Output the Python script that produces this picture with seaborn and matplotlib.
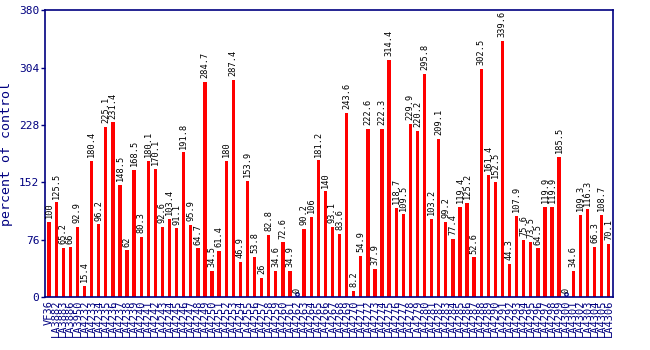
import matplotlib
matplotlib.use("Agg")
import matplotlib.pyplot as plt
import seaborn as sns
import pandas as pd

labels = ["VF36", "LA3882", "LA3883", "LA3886", "LA3950", "LA4232", "LA4233", "LA4234",
          "LA4235", "LA4236", "LA4237", "LA4238", "LA4239", "LA4240", "LA4241", "LA4242",
          "LA4243", "LA4244", "LA4245", "LA4246", "LA4247", "LA4248", "LA4249", "LA4250",
          "LA4251", "LA4252", "LA4253", "LA4254", "LA4255", "LA4256", "LA4257", "LA4258",
          "LA4259", "LA4260", "LA4261", "LA4262", "LA4263", "LA4264", "LA4265", "LA4266",
          "LA4267", "LA4268", "LA4269", "LA4270", "LA4271", "LA4272", "LA4273", "LA4274",
          "LA4275", "LA4276", "LA4277", "LA4278", "LA4279", "LA4280", "LA4281", "LA4282",
          "LA4283", "LA4284", "LA4285", "LA4286", "LA4287", "LA4288", "LA4289", "LA4290",
          "LA4291", "LA4292", "LA4293", "LA4294", "LA4295", "LA4296", "LA4297", "LA4298",
          "LA4299", "LA4300", "LA4301", "LA4302", "LA4303", "LA4304", "LA4305", "LA4306"]

values = [100, 125.5, 65.2, 66, 92.9, 15.4, 180.4, 96.2, 225.1, 231.4,
          148.5, 62, 168.5, 80.3, 180.1, 170.1, 92.6, 103.4, 91.1, 191.8,
          95.9, 64.7, 284.7, 34.5, 61.4, 180, 287.4, 46.9, 153.9, 53.8,
          26, 82.8, 34.6, 72.6, 34.9, 0, 90.2, 106, 181.2, 140,
          93.1, 83.6, 243.6, 8.2, 54.9, 222.6, 37.9, 222.3, 314.4, 118.7,
          109.5, 229.9, 220.2, 295.8, 103.2, 209.1, 99.2, 77.4, 119.4, 125.2,
          52.6, 302.5, 161.4, 152.5, 339.6, 44.3, 107.9, 75.6, 73.5, 64.5,
          119.9, 119.9, 185.5, 0, 34.6, 109.3, 116.3, 66.3, 108.7, 70.1]

value_text = ["100", "125.5", "65.2", "66", "92.9", "15.4", "180.4", "96.2", "225.1", "231.4",
              "148.5", "62", "168.5", "80.3", "180.1", "170.1", "92.6", "103.4", "91.1", "191.8",
              "95.9", "64.7", "284.7", "34.5", "61.4", "180", "287.4", "46.9", "153.9", "53.8",
              "26", "82.8", "34.6", "72.6", "34.9", "0", "90.2", "106", "181.2", "140",
              "93.1", "83.6", "243.6", "8.2", "54.9", "222.6", "37.9", "222.3", "314.4", "118.7",
              "109.5", "229.9", "220.2", "295.8", "103.2", "209.1", "99.2", "77.4", "119.4", "125.2",
              "52.6", "302.5", "161.4", "152.5", "339.6", "44.3", "107.9", "75.6", "73.5", "64.5",
              "119.9", "119.9", "185.5", "0", "34.6", "109.3", "116.3", "66.3", "108.7", "70.1"]

yticks = [0, 76, 152, 228, 304, 380]

navy = "#000080"
mono = "DejaVu Sans Mono"

sns.set_theme(style="white")
plt.rcParams["font.family"] = [mono]

df = pd.DataFrame({"line": labels, "pct": values})

fig = plt.figure(figsize=(6.5, 3.5), dpi=100)
ax = fig.add_axes([0.069, 0.151, 0.874, 0.82])

sns.barplot(data=df, x="line", y="pct", color="red", saturation=1,
            width=0.47, ax=ax, order=labels, linewidth=0)
for p in ax.patches:
    p.set_antialiased(False)

for i, (v, t) in enumerate(zip(values, value_text)):
    ax.text(i, v + 5, t, rotation=90, ha="center", va="bottom",
            fontsize=6.2, color="black", family=mono)
    if v == 0:
        ax.plot([i, i], [0, 4], color=navy, lw=1)
        ax.plot(i, 4.5, marker="o", ms=2.5, mfc="white", mec=navy, mew=0.9)

ax.set_xlim(-0.6, len(labels) - 0.4)
ax.set_ylim(0, 380)
ax.set_yticks(yticks)
ax.set_yticklabels([str(t) for t in yticks], fontsize=8, color=navy, family=mono)
ax.set_xticks(range(len(labels)))
ax.set_xticklabels(labels, rotation=90, fontsize=7.5, color=navy, family=mono)
ax.tick_params(axis="both", colors=navy, length=3, width=1, pad=1, bottom=True, left=True)
ax.tick_params(axis="x", length=0, pad=2)
ax.set_xlabel("")
ax.set_ylabel("percent of control", fontsize=9.5, color=navy, family=mono, labelpad=4)
for sp in ax.spines.values():
    sp.set_color(navy)
    sp.set_linewidth(1.2)

fig.savefig("out.png", dpi=100)
